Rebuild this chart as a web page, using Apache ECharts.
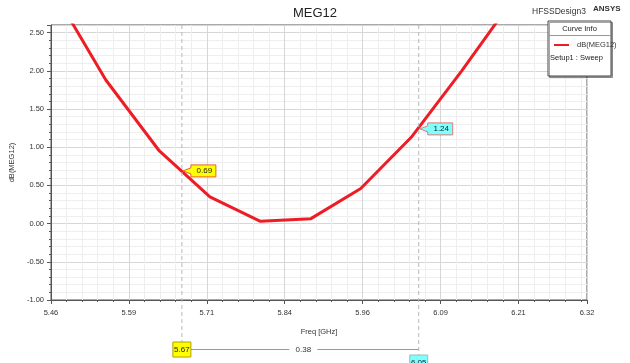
<!DOCTYPE html>
<html>
<head>
<meta charset="utf-8">
<script src="https://cdn.jsdelivr.net/npm/echarts@6/dist/echarts.min.js"></script>
<style>
  html, body { margin: 0; padding: 0; background: #fff; }
  #chart { width: 630px; height: 363px; }
</style>
</head>
<body>
<div id="chart"></div>
<script>
// sweep points
const freqs = [5.467, 5.548, 5.633, 5.715, 5.796, 5.877, 5.957, 6.038, 6.119, 6.2];
const dbMeg12 = [3.0, 1.88, 0.96, 0.35, 0.03, 0.065, 0.46, 1.13, 2.0, 2.92];

// x axis: 5.46 .. 6.32, labels every 0.125
const xMin = 5.46;
const xMax = 6.32;
const xStep = 0.125;
const yMin = -1;
const yMax = 2.6;
const yStep = 0.5;

// markers m1 / m2
const markerFreqs = [5.67, 6.05];
const markerVals = [0.69, 1.24];
const markerFill = ["#ffff00", "#80ffff"];
const markerEdge = ["#e8602a", "#e07878"];

const FONT = "Liberation Sans";
const chart = echarts.init(document.getElementById("chart"));

const fmt2 = (v) => (Math.round(v * 100 + 1e-6) / 100).toFixed(2);

const option = {
  animation: false,
  backgroundColor: "#fff",
  textStyle: { fontFamily: FONT },
  title: [
    {
      text: "MEG12",
      left: "center",
      top: 2,
      textStyle: { fontSize: 13, fontWeight: "normal", color: "#222", fontFamily: FONT },
    },
    {
      text: "HFSSDesign3",
      left: 527,
      top: 2,
      textStyle: { fontSize: 8.5, fontWeight: "normal", color: "#333", fontFamily: FONT },
    },
    {
      text: "ANSYS",
      left: 588,
      top: 0,
      textStyle: { fontSize: 8, fontWeight: "bold", color: "#333", fontFamily: FONT },
    },
  ],
  legend: {
    data: ["dB(MEG12)"],
    left: 549,
    top: 36,
    icon: "rect",
    itemWidth: 15,
    itemHeight: 2,
    itemGap: 4,
    textStyle: { fontSize: 7.5, color: "#333", fontFamily: FONT, padding: [0, 0, 0, 3] },
  },
  grid: {
    left: 50,
    right: 43,
    top: 25,
    bottom: 63,
    show: true,
    borderColor: "#555",
    borderWidth: 1,
  },
  xAxis: {
    type: "value",
    min: 0,
    max: +(xMax - xMin).toFixed(3),
    interval: xStep,
    name: "Freq [GHz]",
    nameLocation: "middle",
    nameGap: 28,
    nameTextStyle: { fontSize: 7.5, color: "#333", fontFamily: FONT },
    axisLine: { onZero: false, lineStyle: { color: "#555" } },
    axisTick: { length: 4, lineStyle: { color: "#555" } },
    minorTick: { show: true, splitNumber: 5, length: 2, lineStyle: { color: "#555" } },
    axisLabel: {
      fontSize: 7.5,
      color: "#333",
      margin: 9,
      formatter: (v) => fmt2(v + xMin),
    },
    splitLine: { show: true, lineStyle: { color: "#d6d6d6" } },
    minorSplitLine: { show: true, lineStyle: { color: "#eeeeee" } },
  },
  yAxis: {
    type: "value",
    min: yMin,
    max: yMax,
    interval: yStep,
    name: "dB(MEG12)",
    nameLocation: "middle",
    nameGap: 27,
    nameTextStyle: { fontSize: 7.5, color: "#333", fontFamily: FONT },
    axisLine: { show: true, onZero: false, lineStyle: { color: "#555" } },
    axisTick: { show: true, length: 4, lineStyle: { color: "#555" } },
    minorTick: { show: true, splitNumber: 5, length: 2, lineStyle: { color: "#555" } },
    axisLabel: {
      fontSize: 7.5,
      color: "#333",
      margin: 7,
      showMaxLabel: false,
      formatter: (v) => v.toFixed(2),
    },
    splitLine: { show: true, lineStyle: { color: "#d6d6d6" } },
    minorSplitLine: { show: true, lineStyle: { color: "#eeeeee" } },
  },
  series: [
    {
      name: "dB(MEG12)",
      type: "line",
      data: freqs.map((f, i) => [f - xMin, dbMeg12[i]]),
      showSymbol: false,
      clip: true,
      itemStyle: { color: "#ee1d25" },
      lineStyle: { color: "#ee1d25", width: 3 },
    },
  ],
};

chart.setOption(option);

// markers, callouts and the curve-info box
const graphics = [];
const topPx = chart.convertToPixel({ gridIndex: 0 }, [0, yMax])[1];
const bottomBoxTop = [342, 355];

markerFreqs.forEach((f, i) => {
  const [px, py] = chart.convertToPixel({ gridIndex: 0 }, [f - xMin, markerVals[i]]);
  // dashed vertical line down to the bottom label
  graphics.push({
    type: "line",
    shape: { x1: px, y1: topPx, x2: px, y2: bottomBoxTop[i] },
    style: { stroke: "#b8b8b8", lineWidth: 1, lineDash: [4, 3] },
    z: 50,
  });
  // callout with arrow
  const bx = px + 9, bw = 25, bt = py - 6, bh = 12;
  graphics.push({
    type: "polygon",
    shape: {
      points: [
        [px + 1, py], [bx, py - 3], [bx, bt], [bx + bw, bt],
        [bx + bw, bt + bh], [bx, bt + bh], [bx, py + 3],
      ],
    },
    style: { fill: markerFill[i], stroke: markerEdge[i], lineWidth: 1 },
    z: 60,
  });
  graphics.push({
    type: "text",
    x: bx + bw / 2 + 1,
    y: py,
    style: {
      text: markerVals[i].toFixed(2),
      font: "8px " + FONT,
      fill: "#222",
      align: "center",
      verticalAlign: "middle",
    },
    z: 61,
  });
  // frequency tag under the axis
  graphics.push({
    type: "rect",
    shape: { x: px - 9, y: bottomBoxTop[i], width: 18, height: 15 },
    style: { fill: markerFill[i], stroke: i === 0 ? "#b0a000" : "#90c0c0", lineWidth: 1 },
    z: 60,
  });
  graphics.push({
    type: "text",
    x: px,
    y: bottomBoxTop[i] + 8,
    style: {
      text: f.toFixed(2),
      font: "8px " + FONT,
      fill: "#222",
      align: "center",
      verticalAlign: "middle",
    },
    z: 61,
  });
});

// delta line between the two markers
const m1x = chart.convertToPixel({ gridIndex: 0 }, [markerFreqs[0] - xMin, 0])[0];
const m2x = chart.convertToPixel({ gridIndex: 0 }, [markerFreqs[1] - xMin, 0])[0];
const midX = (m1x + m2x) / 2 + 3;
const deltaY = 349.5;
graphics.push(
  {
    type: "line",
    shape: { x1: m1x + 9, y1: deltaY, x2: midX - 14, y2: deltaY },
    style: { stroke: "#999", lineWidth: 1 },
  },
  {
    type: "line",
    shape: { x1: midX + 14, y1: deltaY, x2: m2x, y2: deltaY },
    style: { stroke: "#999", lineWidth: 1 },
  },
  {
    type: "text",
    x: midX,
    y: deltaY,
    style: {
      text: (markerFreqs[1] - markerFreqs[0]).toFixed(2),
      font: "8px " + FONT,
      fill: "#333",
      align: "center",
      verticalAlign: "middle",
    },
  }
);

// curve info box
graphics.push(
  {
    type: "rect",
    shape: { x: 548, y: 21, width: 63, height: 55 },
    style: {
      fill: "#fff",
      stroke: "#444",
      lineWidth: 1,
      shadowColor: "rgba(0,0,0,0.35)",
      shadowOffsetX: 1.5,
      shadowOffsetY: 1.5,
      shadowBlur: 0,
    },
    z: 0,
  },
  {
    type: "line",
    shape: { x1: 548, y1: 35.5, x2: 611, y2: 35.5 },
    style: { stroke: "#999", lineWidth: 1 },
    z: 1,
  },
  {
    type: "text",
    x: 579.5,
    y: 29,
    style: {
      text: "Curve Info",
      font: "7.5px " + FONT,
      fill: "#222",
      align: "center",
      verticalAlign: "middle",
    },
    z: 1,
  },
  {
    type: "text",
    x: 550,
    y: 58,
    style: {
      text: "Setup1 : Sweep",
      font: "7.5px " + FONT,
      fill: "#222",
      align: "left",
      verticalAlign: "middle",
    },
    z: 1,
  }
);

chart.setOption({ graphic: graphics });
</script>
</body>
</html>
